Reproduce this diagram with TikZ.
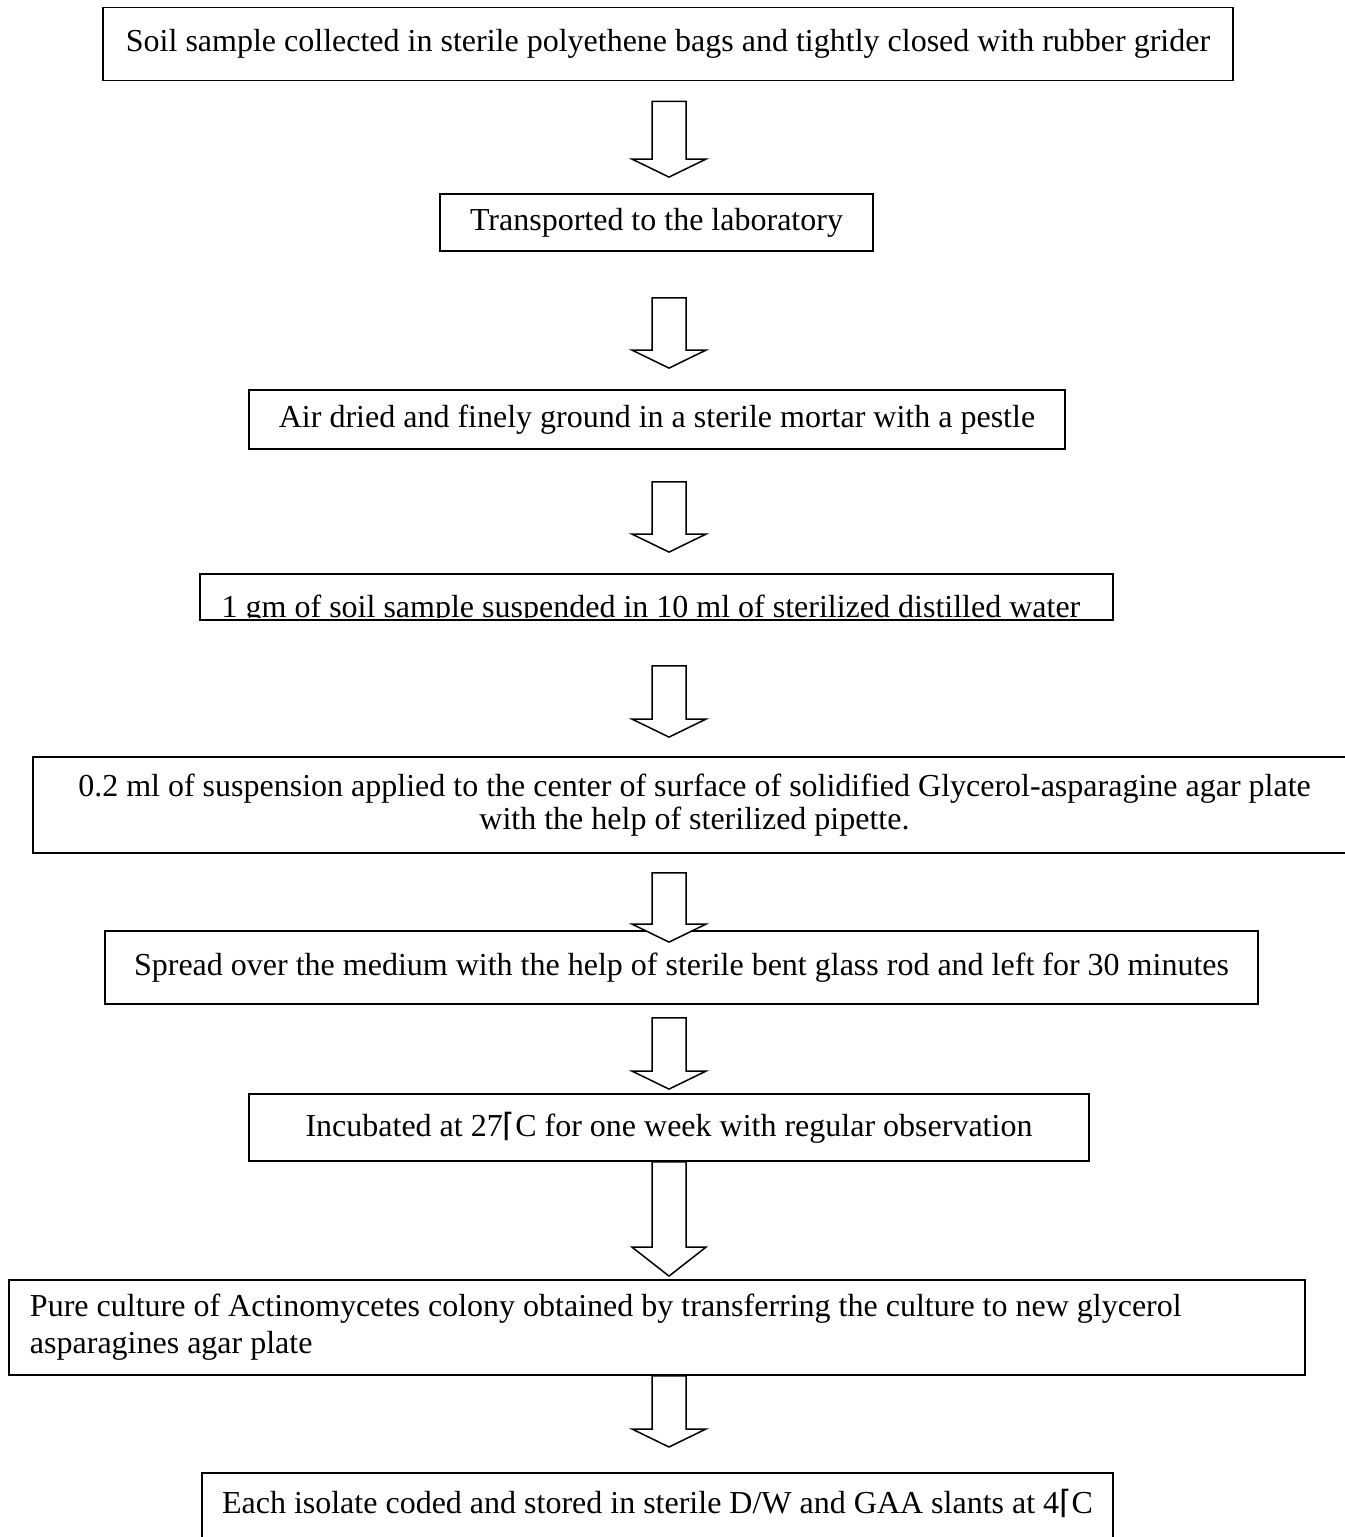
\documentclass[tikz,border=0pt]{standalone}
\usepackage{fontspec}
\setmainfont{Liberation Serif}
\newfontfamily\glyphfont{DejaVu Sans}
\usetikzlibrary{calc}

% hollow block arrow: [head depth]{from}{to}{gap below from}{tip offset from top of to}
\newcommand{\hollowarrow}[5][18]{%
  \path ($(#2.south -| axis)+(0,#4)$) coordinate (atop)
        ($(#3.north -| axis)+(0,#5)$) coordinate (atip);
  \draw[hollow] ($(atop)+(-17,0)$) |- ($(atip)+(-37,-#1)$) -- (atip)
    -- ($(atip)+(37,-#1)$) -| ($(atop)+(17,0)$) -- cycle;
}
\newcommand{\degsign}{{\glyphfont ⌈}}

\begin{document}
\begin{tikzpicture}[
  x=1bp, y=-1bp,
  box/.style={draw, line width=1.8bp, inner sep=0pt, align=center,
    font=\fontsize{32bp}{33bp}\selectfont},
  hollow/.style={draw, fill=white, line width=1.5bp, line join=miter}
]
\clip (0,0) rectangle (1345,1537);
\coordinate (axis) at (669,0);

\node[box, minimum width=1130bp, minimum height=73bp] (collect) at (668,44)
  {Soil sample collected in sterile polyethene bags and tightly closed with rubber grider};
\node[box, minimum width=433bp, minimum height=57bp] (transport) at (656.5,222.5)
  {Transported to the laboratory};
\node[box, minimum width=816bp, minimum height=59bp] (grind) at (657,419.5)
  {Air dried and finely ground in a sterile mortar with a pestle};
\node[box, minimum width=913bp, minimum height=46bp] (suspend) at (656.5,597) {};
\begin{scope}
  \clip (suspend.north west) rectangle ($(suspend.south east)+(0,-3)$);
  \node[anchor=base, inner sep=0pt, font=\fontsize{32bp}{33bp}\selectfont] (suspendtext) at (651,617)
    {1 gm of soil sample suspended in 10 ml of sterilized distilled water};
\end{scope}
\node[box, minimum width=1323bp, minimum height=96bp] (apply) at (694.5,805)
  {0.2 ml of suspension applied to the center of surface of solidified Glycerol-asparagine agar plate\\
   with the help of sterilized pipette.};
\node[box, minimum width=1153bp, minimum height=73bp] (spread) at (681.5,967.5)
  {Spread over the medium with the help of sterile bent glass rod and left for 30 minutes};
\node[box, minimum width=840bp, minimum height=67bp] (incubate) at (669,1127.5)
  {Incubated at 27\degsign C for one week with regular observation};
\node[box, minimum width=1296bp, minimum height=95bp, inner xsep=21bp, text width=1254bp, align=flush left,
  font=\fontsize{32bp}{37bp}\selectfont] (purify) at (657,1327.5)
  {Pure culture of Actinomycetes colony obtained by transferring the culture to new glycerol\\
   asparagines agar plate};
\node[box, anchor=north, minimum width=911bp, text height=41bp, text depth=59bp] (store) at (657.5,1472)
  {Each isolate coded and stored in sterile D/W and GAA slants at 4\degsign C};

\hollowarrow{collect}{transport}{20}{-16}
\hollowarrow{transport}{grind}{46}{-21}
\hollowarrow{grind}{suspend}{32}{-21}
\hollowarrow{suspend}{apply}{45}{-19}
\hollowarrow{apply}{spread}{19}{12}
\hollowarrow{spread}{incubate}{13}{-4}
\hollowarrow[29]{incubate}{purify}{0}{-3}
\hollowarrow{purify}{store}{0}{-25}
\end{tikzpicture}
\end{document}
